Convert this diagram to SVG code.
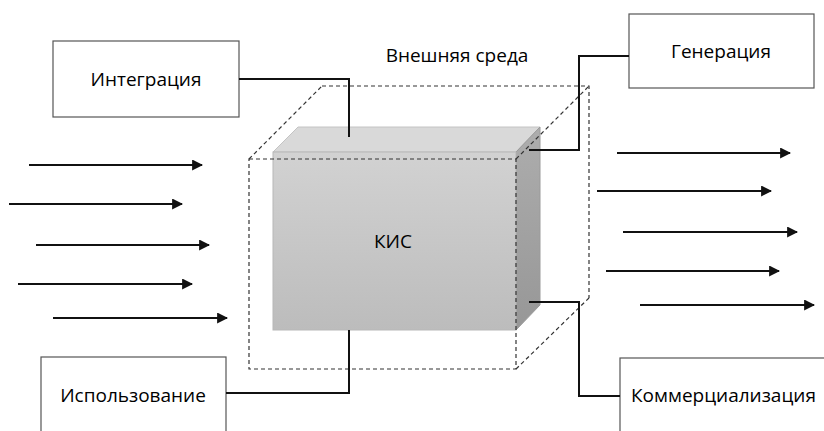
<svg xmlns="http://www.w3.org/2000/svg" width="824" height="431" viewBox="0 0 824 431">
  <defs>
    <marker id="head" viewBox="0 0 10 10" refX="9" refY="5" markerWidth="5.5" markerHeight="5.5" orient="auto" markerUnits="strokeWidth">
      <path d="M0,0 L10,5 L0,10 z" fill="#111"/>
    </marker>
    <linearGradient id="frontFill" x1="0" y1="0" x2="0" y2="1">
      <stop offset="0" stop-color="#d2d2d2"/>
      <stop offset="1" stop-color="#bcbcbc"/>
    </linearGradient>
    <linearGradient id="sideFill" x1="0" y1="0" x2="0" y2="1">
      <stop offset="0" stop-color="#adadad"/>
      <stop offset="1" stop-color="#979797"/>
    </linearGradient>
  </defs>
  <style>
    .lbl { font-family: "Open Sans", "Liberation Sans", sans-serif; font-size: 19px; fill: #000; }
    .box { fill: #fff; stroke: #555; stroke-width: 1.2; }
    .conn { fill: none; stroke: #111; stroke-width: 2; }
    .flow { stroke: #111; stroke-width: 2; marker-end: url(#head); }
    .env { fill: none; stroke: #333; stroke-width: 1.2; stroke-dasharray: 4 3; }
  </style>

  <rect width="824" height="431" fill="#fff"/>

  <!-- environment label -->
  <text class="lbl" x="457" y="62" text-anchor="middle">Внешняя среда</text>

  <!-- solid system cube -->
  <g id="kis">
    <polygon points="273,152 298,127 540,127 516,152" fill="#d9d9d9" stroke="#c4c4c4" stroke-width="1"/>
    <polygon points="516,152 540,127 540,305 516,330" fill="url(#sideFill)" stroke="#9a9a9a" stroke-width="1"/>
    <rect x="273" y="152" width="243" height="178" fill="url(#frontFill)" stroke="#b8b8b8" stroke-width="1"/>
    <text class="lbl" x="393" y="248" text-anchor="middle">КИС</text>
  </g>

  <!-- dashed environment cube -->
  <g id="environment">
    <path class="env" d="M322,86 H589 V298"/>
    <path class="env" d="M249,159 L322,86 M516,159 L589,86 M516,369 L589,298"/>
    <rect class="env" x="249" y="159" width="267" height="210"/>
  </g>

  <!-- nodes -->
  <g id="integration">
    <rect class="box" x="53" y="41" width="186" height="76"/>
    <text class="lbl" x="146" y="86" text-anchor="middle">Интеграция</text>
  </g>
  <g id="generation">
    <rect class="box" x="629" y="14" width="185" height="74"/>
    <text class="lbl" x="721" y="58" text-anchor="middle">Генерация</text>
  </g>
  <g id="usage">
    <rect class="box" x="41" y="357" width="185" height="90"/>
    <text class="lbl" x="133" y="402" text-anchor="middle">Использование</text>
  </g>
  <g id="commercialization">
    <rect class="box" x="620" y="358" width="220" height="90"/>
    <text class="lbl" x="631" y="402">Коммерциализация</text>
  </g>

  <!-- connectors -->
  <g id="connectors">
    <polyline class="conn" points="239,79 349,79 349,137"/>
    <polyline class="conn" points="629,56 579,56 579,150 529,150"/>
    <polyline class="conn" points="529,302 579,302 579,396 620,396"/>
    <polyline class="conn" points="226,393 349,393 349,330"/>

    <!-- incoming flows -->
    <line class="flow" x1="29" y1="165" x2="202" y2="165"/>
    <line class="flow" x1="9" y1="204" x2="182" y2="204"/>
    <line class="flow" x1="36" y1="245" x2="209" y2="245"/>
    <line class="flow" x1="18" y1="284" x2="192" y2="284"/>
    <line class="flow" x1="53" y1="318" x2="227" y2="318"/>

    <!-- outgoing flows -->
    <line class="flow" x1="617" y1="153" x2="790" y2="153"/>
    <line class="flow" x1="597" y1="191" x2="771" y2="191"/>
    <line class="flow" x1="623" y1="232" x2="797" y2="232"/>
    <line class="flow" x1="606" y1="271" x2="779" y2="271"/>
    <line class="flow" x1="640" y1="305" x2="814" y2="305"/>
  </g>
</svg>
